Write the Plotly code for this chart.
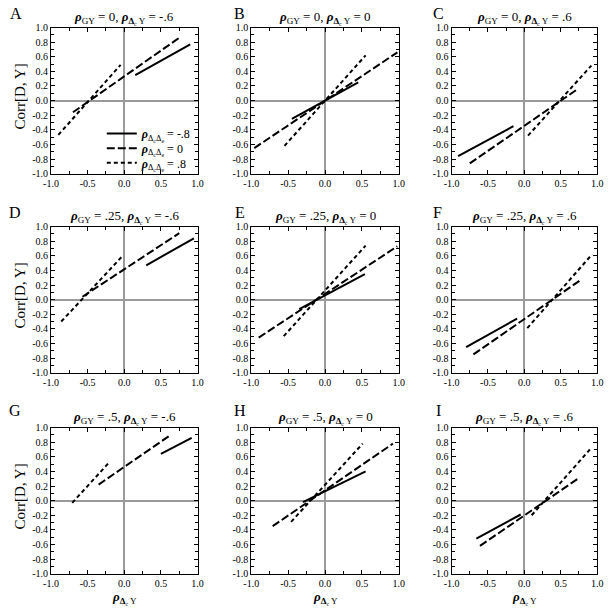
import plotly.graph_objects as go

# ---- data (straight segments: [start, end]) ----
panel_letters = ["A", "B", "C", "D", "E", "F", "G", "H", "I"]
rho_gy_labels = ["0", "0", "0", ".25", ".25", ".25", ".5", ".5", ".5"]
rho_dy_labels = ["-.6", "0", ".6", "-.6", "0", ".6", "-.6", "0", ".6"]

solid_x = [[0.15, 0.90], [-0.45, 0.45], [-0.91, -0.15], [0.30, 0.95], [-0.35, 0.54],
           [-0.80, -0.10], [0.50, 0.92], [-0.30, 0.55], [-0.66, -0.05]]
solid_y = [[0.35, 0.77], [-0.25, 0.25], [-0.76, -0.35], [0.47, 0.84], [-0.13, 0.35],
           [-0.65, -0.26], [0.64, 0.86], [-0.02, 0.40], [-0.52, -0.19]]
longdash_x = [[-0.70, 0.75], [-0.96, 0.98], [-0.75, 0.72], [-0.57, 0.75], [-0.90, 0.98],
              [-0.70, 0.76], [-0.35, 0.62], [-0.71, 0.92], [-0.61, 0.75]]
longdash_y = [[-0.16, 0.86], [-0.65, 0.66], [-0.86, 0.15], [0.04, 0.91], [-0.52, 0.73],
              [-0.75, 0.26], [0.22, 0.89], [-0.35, 0.78], [-0.62, 0.31]]
shortdash_x = [[-0.90, -0.05], [-0.55, 0.55], [0.05, 0.92], [-0.86, -0.04], [-0.56, 0.55],
               [0.04, 0.93], [-0.71, -0.20], [-0.46, 0.51], [0.10, 0.90]]
shortdash_y = [[-0.47, 0.49], [-0.62, 0.62], [-0.48, 0.48], [-0.30, 0.58], [-0.50, 0.74],
               [-0.39, 0.62], [-0.03, 0.53], [-0.29, 0.78], [-0.20, 0.70]]

legend_labels = ["= -.8", "= 0", "= .8"]

x_tickvals = [-1.0, -0.5, 0.0, 0.5, 1.0]
x_ticktext = ["-1.0", "-0.5", "0.0", "0.5", "1.0"]
y_tickvals = [1.0, 0.8, 0.6, 0.4, 0.2, 0.0, -0.2, -0.4, -0.6, -0.8, -1.0]
y_ticktext = ["1.0", "0.8", "0.6", "0.4", "0.2", "0.0", "-0.2", "-0.4", "-0.6", "-0.8", "-1.0"]

# ---- layout geometry ----
W, H = 610, 613
FONT = "Liberation Serif"
col_px = [(44, 194), (249, 400), (454, 603)]
row_px = [(22, 171), (225, 374), (430, 579)]
letter_pos = [(8, 8), (237, 8), (441, 8), (7, 211), (237, 211), (440, 211),
              (7, 413), (237, 413), (441, 413)]
legend_names = ["legend", "legend2", "legend3"]
legend_rows_px = [130, 145, 160]

RHO = "<b><i>ρ</i></b>"
C_SUB = '<span style="font-size:6px;baseline-shift:-2px">c</span>'
E_SUB = '<span style="font-size:6px;baseline-shift:-2px">e</span>'
DC = "<b>Δ</b>" + C_SUB

series = [
    (solid_x, solid_y, "solid"),
    (longdash_x, longdash_y, "8px,3px"),
    (shortdash_x, shortdash_y, "4px,3px"),
]

fig = go.Figure()
layout = {}
annotations = []

for i in range(9):
    r, c = divmod(i, 3)
    sfx = "" if i == 0 else str(i + 1)
    for k, (xs, ys, dash) in enumerate(series):
        fig.add_trace(go.Scatter(
            x=xs[i], y=ys[i], mode="lines",
            line=dict(color="black", width=2, dash=dash),
            xaxis="x" + sfx, yaxis="y" + sfx,
            showlegend=(i == 0), legend=legend_names[k],
            name=RHO + "<sub>Δ" + C_SUB + "Δ" + E_SUB + "</sub> " + legend_labels[k],
            hoverinfo="skip",
        ))
    x0, x1 = col_px[c]
    y0, y1 = row_px[r]
    common = dict(range=[-1, 1], showgrid=False, showline=True, linecolor="black",
                  linewidth=1, mirror="allticks", ticks="inside", ticklen=4,
                  tickcolor="black", zeroline=True, zerolinecolor="#9a9a9a",
                  zerolinewidth=1.5, tickfont=dict(family=FONT, size=10, color="black"),
                  fixedrange=True)
    layout["xaxis" + sfx] = dict(common, domain=[x0 / W, x1 / W], anchor="y" + sfx,
                                 tickvals=x_tickvals, ticktext=x_ticktext,
                                 minor=dict(dtick=0.25, tick0=0, ticks="inside",
                                            ticklen=3, tickcolor="black"))
    layout["yaxis" + sfx] = dict(common, domain=[1 - y1 / H, 1 - y0 / H], anchor="x" + sfx,
                                 tickvals=y_tickvals, ticktext=y_ticktext,
                                 minor=dict(dtick=0.1, tick0=0, ticks="inside",
                                            ticklen=3, tickcolor="black"))
    cx = (x0 + x1) / 2
    # panel title
    annotations.append(dict(
        x=cx / W, y=1 - (y0 - 10) / H, xref="paper", yref="paper",
        xanchor="center", yanchor="middle", showarrow=False,
        text=RHO + "<sub>GY</sub> = " + rho_gy_labels[i] + ", " + RHO + "<sub>" + DC +
             " Y</sub> = " + rho_dy_labels[i],
        font=dict(family=FONT, size=13, color="black")))
    # panel letter
    lx, ly = letter_pos[i]
    annotations.append(dict(
        x=lx / W, y=1 - ly / H, xref="paper", yref="paper",
        xanchor="center", yanchor="middle", showarrow=False,
        text=panel_letters[i], font=dict(family=FONT, size=16, color="black")))
    if c == 0:
        annotations.append(dict(
            x=12 / W, y=1 - ((y0 + y1) / 2 - 4) / H, xref="paper", yref="paper",
            xanchor="center", yanchor="middle", showarrow=False, textangle=-90,
            text="Corr[D, Y]", font=dict(family=FONT, size=15, color="black")))
    if r == 2:
        annotations.append(dict(
            x=cx / W, y=1 - 604 / H, xref="paper", yref="paper",
            xanchor="center", yanchor="middle", showarrow=False,
            text=RHO + "<sub>" + DC + " Y</sub>",
            font=dict(family=FONT, size=13, color="black")))

for name, ypx in zip(legend_names, legend_rows_px):
    layout[name] = dict(x=96 / W, y=1 - ypx / H, xanchor="left", yanchor="middle",
                        bgcolor="rgba(0,0,0,0)", itemwidth=30,
                        font=dict(family=FONT, size=12, color="black"))

fig.update_layout(
    width=W, height=H, margin=dict(l=0, r=0, t=0, b=0),
    paper_bgcolor="white", plot_bgcolor="white",
    annotations=annotations,
    **layout,
)

fig.write_html("out.html", config={"displayModeBar": False},
               post_script="document.body.style.margin='0px';document.body.style.overflow='hidden';")
